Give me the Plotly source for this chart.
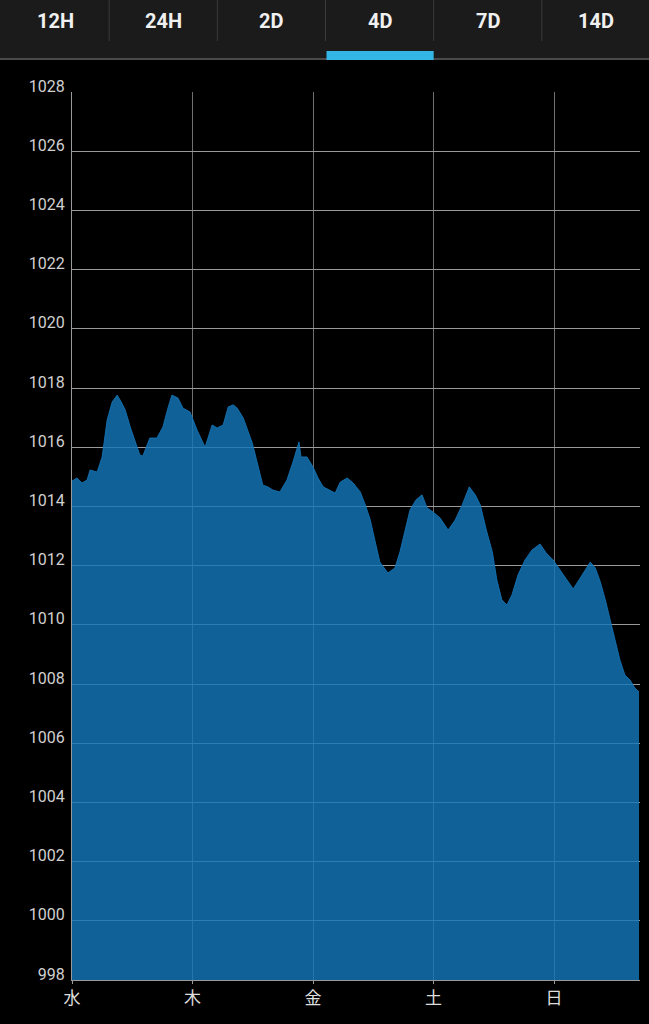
import plotly.graph_objects as go

# hours since Wednesday 00:00
hours = [0, 1.0, 2.0, 3.0, 3.6, 5.0, 6.0, 7.0, 8.0, 9.0, 9.8, 10.6, 11.6, 12.5, 13.5, 14.1,
         15.5, 16.9, 18.1, 19.1, 19.9, 21.1, 22.1, 23.5, 24.9, 26.5, 27.9, 28.9, 30.1, 31.1,
         32.1, 32.9, 34.1, 35.9, 36.8, 38.0, 39.0, 40.0, 41.4, 42.8, 44.0, 45.2, 45.6, 46.8,
         48.0, 49.0, 50.0, 51.2, 52.4, 53.4, 54.8, 56.0, 57.4, 58.4, 59.4, 60.3, 61.3, 62.9,
         64.3, 65.3, 66.3, 67.3, 68.5, 69.7, 70.7, 71.9, 73.3, 74.9, 76.3, 77.7, 79.1, 80.3,
         81.3, 82.5, 83.7, 84.6, 85.6, 86.6, 87.6, 88.8, 90.2, 91.6, 93.2, 94.4, 95.8, 97.2,
         98.6, 99.8, 101.2, 102.4, 103.2, 104.2, 105.2, 106.2, 107.2, 108.2, 109.1, 110.1,
         111.1, 112.1, 112.9]
pressure = [1014.86, 1014.96, 1014.79, 1014.89, 1015.23, 1015.16, 1015.67, 1016.92, 1017.53,
            1017.76, 1017.53, 1017.26, 1016.68, 1016.24, 1015.74, 1015.70, 1016.31, 1016.31,
            1016.68, 1017.32, 1017.76, 1017.66, 1017.32, 1017.19, 1016.58, 1016.00, 1016.75,
            1016.65, 1016.75, 1017.36, 1017.43, 1017.32, 1016.99, 1016.14, 1015.57, 1014.72,
            1014.66, 1014.55, 1014.49, 1014.89, 1015.50, 1016.18, 1015.67, 1015.67, 1015.33,
            1014.96, 1014.66, 1014.55, 1014.45, 1014.82, 1014.96, 1014.79, 1014.49, 1014.05,
            1013.54, 1012.86, 1012.12, 1011.75, 1011.92, 1012.46, 1013.20, 1013.88, 1014.22,
            1014.39, 1013.95, 1013.81, 1013.61, 1013.20, 1013.54, 1014.05, 1014.66, 1014.39,
            1014.05, 1013.20, 1012.46, 1011.51, 1010.84, 1010.67, 1011.01, 1011.68, 1012.19,
            1012.53, 1012.73, 1012.43, 1012.19, 1011.85, 1011.51, 1011.21, 1011.58, 1011.92,
            1012.12, 1011.92, 1011.45, 1010.84, 1010.16, 1009.49, 1008.81, 1008.30, 1008.14,
            1007.86, 1007.73]

day_ticks = [0, 24, 48, 72, 96]
day_labels = ["水", "木", "金", "土", "日"]
y_ticks = list(range(998, 1029, 2))
tabs = ["12H", "24H", "2D", "4D", "7D", "14D"]
selected_tab = "4D"

W, H = 649, 1024
ML, MR, MT, MB = 72, 9, 92, 44
PW, PH = W - ML - MR, H - MT - MB


def px_x(p):
    return (p - ML) / PW


def px_y(p):
    return (H - MB - p) / PH


fig = go.Figure()
fig.add_trace(go.Scatter(
    x=hours, y=pressure, mode="lines", fill="tozeroy",
    line=dict(color="rgba(20,118,185,0.85)", width=1),
    fillcolor="rgba(20,118,185,0.82)", hoverinfo="skip", showlegend=False,
))

shapes = []
annotations = []
# top tab bar
shapes.append(dict(type="rect", xref="paper", yref="paper", x0=px_x(0), x1=px_x(W),
                   y0=px_y(58), y1=px_y(0), fillcolor="#1b1b1b", line=dict(width=0), layer="above"))
shapes.append(dict(type="rect", xref="paper", yref="paper", x0=px_x(0), x1=px_x(W),
                   y0=px_y(60), y1=px_y(58), fillcolor="#4a4a4a", line=dict(width=0), layer="above"))
tab_w = W / len(tabs)
for i, t in enumerate(tabs):
    cx = tab_w * (i + 0.5) + 1
    annotations.append(dict(text="<b>" + t + "</b>", x=px_x(cx), y=px_y(21), xref="paper", yref="paper",
                            showarrow=False, xanchor="center", yanchor="middle",
                            font=dict(family="Roboto", size=20, color="#f0f0f0")))
    if i > 0:
        sx = tab_w * i + 1
        shapes.append(dict(type="line", xref="paper", yref="paper", x0=px_x(sx), x1=px_x(sx),
                           y0=px_y(41), y1=px_y(0), line=dict(color="#3a3a3a", width=1), layer="above"))
    if t == selected_tab:
        shapes.append(dict(type="rect", xref="paper", yref="paper", x0=px_x(tab_w * i + 2),
                           x1=px_x(tab_w * (i + 1) + 1), y0=px_y(60), y1=px_y(51),
                           fillcolor="#33b5e5", line=dict(width=0), layer="above"))

fig.update_layout(
    width=W, height=H,
    margin=dict(l=ML, r=MR, t=MT, b=MB),
    paper_bgcolor="black", plot_bgcolor="black",
    shapes=shapes, annotations=annotations,
    xaxis=dict(range=[0, 113.1], tickvals=day_ticks, ticktext=day_labels,
               showgrid=True, gridcolor="#707070", gridwidth=1,
               showline=True, linecolor="#9a9a9a", linewidth=1,
               ticks="outside", ticklen=3, tickcolor="#9a9a9a",
               tickfont=dict(family="Noto Sans CJK JP", size=17, color="#dddddd"),
               zeroline=False, fixedrange=True),
    yaxis=dict(range=[998, 1028], tickvals=y_ticks, ticktext=[str(v) for v in y_ticks],
               showgrid=True, gridcolor="#9a9a9a", gridwidth=1,
               showline=True, linecolor="#9a9a9a", linewidth=1,
               ticks="", ticklabelshift=-6, ticklabelstandoff=3,
               tickfont=dict(family="Roboto", size=16, color="#d0d0d0"),
               zeroline=False, fixedrange=True),
)

fig.write_html("out.html", config={"displayModeBar": False},
               post_script="document.body.style.margin='0';document.body.style.background='black';")
